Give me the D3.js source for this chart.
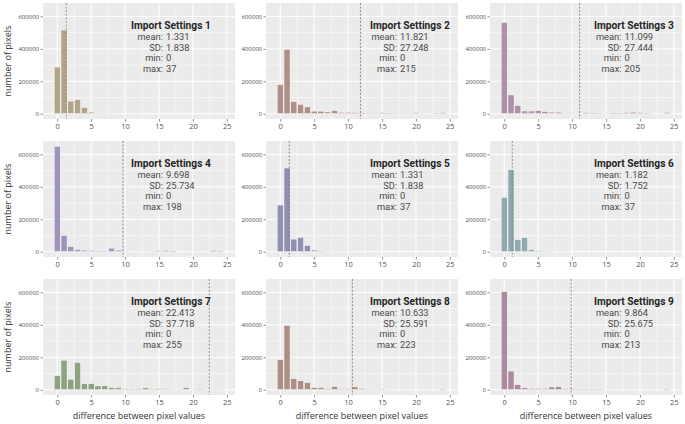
<!DOCTYPE html>
<html>
<head>
<meta charset="utf-8">
<script src="https://cdn.jsdelivr.net/npm/d3@7"></script>
<style>
  html, body { margin: 0; padding: 0; background: #ffffff; }
  svg { display: block; }
</style>
</head>
<body>
<svg id="chart" width="685" height="424"></svg>
<script>
// ---------- data ----------
const binValues = [0,1,2,3,4,5,6,7,8,9,10,11,12,13,14,15,16,17,18,19,20,21,22,23,24];

const series1 = [288000,516000,78000,88000,39000,10000,4000,2500,1500,800,600,500,400,300,300,200,200,200,200,200,200,200,200,200,200];
const series2 = [180000,397000,75000,58000,42000,16000,16000,11000,19000,9000,9000,8000,6000,3000,3000,7000,5000,3000,3000,2000,7000,2000,1000,4000,8000];
const series3 = [563000,116000,51000,17000,17000,19000,14000,10000,10000,3000,3000,2000,8000,7000,4000,2000,5000,5000,8000,10000,8000,5000,1000,1000,9000];
const series4 = [650000,101000,32000,15000,10000,8000,6000,6000,22000,10000,2000,500,500,500,2000,7000,9000,6000,500,500,500,500,500,9000,6000];
const series5 = [288000,516000,78000,88000,39000,10000,4000,2500,1500,800,600,500,400,300,300,200,200,200,200,200,200,200,200,200,200];
const series6 = [335000,505000,75000,87000,14000,6000,3000,2000,1000,500,400,300,300,300,200,200,200,200,200,200,200,200,200,200,200];
const series7 = [87000,182000,65000,168000,38000,38000,24000,24000,14000,14000,6000,6000,7000,12000,5000,7000,7000,2000,2000,13000,2000,6000,2000,2000,2000];
const series8 = [185000,397000,68000,56000,45000,14000,14000,8000,20000,6000,5000,18000,8000,3000,2000,4000,1500,1000,1000,1000,1000,800,800,1000,5000];
const series9 = [605000,115000,32000,13000,8000,8000,8000,17000,19000,7000,7000,5000,4000,4000,5000,1000,1000,1000,1000,1000,1000,1000,1000,1000,5000];

const panelTitles = ["Import Settings 1","Import Settings 2","Import Settings 3",
                     "Import Settings 4","Import Settings 5","Import Settings 6",
                     "Import Settings 7","Import Settings 8","Import Settings 9"];
const means = [1.331, 11.821, 11.099, 9.698, 1.331, 1.182, 22.413, 10.633, 9.864];
const sds   = [1.838, 27.248, 27.444, 25.734, 1.838, 1.752, 37.718, 25.591, 25.675];
const mins  = [0, 0, 0, 0, 0, 0, 0, 0, 0];
const maxs  = [37, 215, 205, 198, 37, 37, 255, 223, 213];

const xTicks = [0, 5, 10, 15, 20, 25];
const yTicks = [0, 200000, 400000, 600000];
const yMinorTicks = [100000, 300000, 500000];
const xMinorTicks = [2.5, 7.5, 12.5, 17.5, 22.5];

const xTitle = "difference between pixel values";
const yTitle = "number of pixels";

// ---------- styles ----------
const allSeries = [series1, series2, series3, series4, series5, series6, series7, series8, series9];
const barColors  = ["#b2a488", "#ae9088", "#ae90a8", "#a094b8", "#9290b0", "#90a9ad", "#8ea282", "#ac9086", "#ad8aa0"];
const lineColors = ["#8a7c62", "#8a6a62", "#8a6a84", "#7a6a94", "#6a689a", "#5f8a8e", "#6a7c5c", "#8a6a60", "#8a6480"];

const colLeft = [43, 266, 490];
const rowTop = [3, 141, 279];
const panelW = 192, panelH = 116;
const titleDx = [88, 104, 104];
const colonDx = [120, 131, 131.5];

const svg = d3.select("#chart");
const font = "'Open Sans', 'Noto Sans', sans-serif";
const annFont = "Roboto, 'Open Sans', sans-serif";

const x = d3.scaleLinear().domain([-2.1, 26.2]).range([0, panelW]);
const y = d3.scaleLinear().domain([-32500, 682500]).range([panelH, 0]);
const barW = x(0.9) - x(0);

allSeries.forEach((series, i) => {
  const col = i % 3, row = Math.floor(i / 3);
  const g = svg.append("g").attr("transform", `translate(${colLeft[col]},${rowTop[row]})`);

  // background
  g.append("rect").attr("width", panelW).attr("height", panelH).attr("fill", "#ebebeb");

  // minor grid
  g.selectAll(".ymin").data(yMinorTicks).enter().append("line")
    .attr("x1", 0).attr("x2", panelW).attr("y1", d => y(d)).attr("y2", d => y(d))
    .attr("stroke", "#ffffff").attr("stroke-width", 0.5);
  g.selectAll(".xmin").data(xMinorTicks).enter().append("line")
    .attr("y1", 0).attr("y2", panelH).attr("x1", d => x(d)).attr("x2", d => x(d))
    .attr("stroke", "#ffffff").attr("stroke-width", 0.5);
  // major grid
  g.selectAll(".ymaj").data(yTicks).enter().append("line")
    .attr("x1", 0).attr("x2", panelW).attr("y1", d => y(d)).attr("y2", d => y(d))
    .attr("stroke", "#ffffff").attr("stroke-width", 1);
  g.selectAll(".xmaj").data(xTicks).enter().append("line")
    .attr("y1", 0).attr("y2", panelH).attr("x1", d => x(d)).attr("x2", d => x(d))
    .attr("stroke", "#ffffff").attr("stroke-width", 1);

  // bars
  g.selectAll(".bar").data(binValues.map((b, k) => ({ b, v: series[k] }))).enter().append("rect")
    .attr("x", d => x(d.b) - barW / 2)
    .attr("width", barW)
    .attr("y", d => y(d.v))
    .attr("height", d => y(0) - y(d.v))
    .attr("fill", barColors[i])
    .attr("stroke", "#ffffff").attr("stroke-width", 0.5);

  // mean line
  g.append("line")
    .attr("x1", x(means[i])).attr("x2", x(means[i]))
    .attr("y1", 0).attr("y2", panelH)
    .attr("stroke", lineColors[i]).attr("stroke-width", 0.8)
    .attr("stroke-dasharray", "2,1.6");

  // y axis
  const yAxis = d3.axisLeft(y).tickValues(yTicks).tickSize(2.5).tickPadding(1.5).tickFormat(d3.format("d"));
  const ya = g.append("g").call(yAxis);
  ya.select(".domain").remove();
  ya.selectAll(".tick line").attr("stroke", "#444").attr("stroke-width", 0.6);
  ya.selectAll(".tick text").attr("fill", "#4d4d4d").style("font-family", font).style("font-size", "6px");

  // x axis
  const xAxis = d3.axisBottom(x).tickValues(xTicks).tickSize(2.5).tickPadding(2.5);
  const xa = g.append("g").attr("transform", `translate(0,${panelH})`).call(xAxis);
  xa.select(".domain").remove();
  xa.selectAll(".tick line").attr("stroke", "#444").attr("stroke-width", 0.6);
  xa.selectAll(".tick text").attr("fill", "#555").style("font-family", font).style("font-size", "7.5px");

  // annotation
  g.append("text")
    .attr("x", titleDx[col]).attr("y", 25.5)
    .attr("fill", "#262626").style("font-family", annFont).style("font-size", "10.2px").style("font-weight", "bold")
    .text(panelTitles[i]);
  const labels = ["mean:", "SD:", "min:", "max:"];
  const vals = [means[i].toFixed(3), sds[i].toFixed(3), String(mins[i]), String(maxs[i])];
  labels.forEach((lab, k) => {
    g.append("text")
      .attr("x", colonDx[col]).attr("y", 37 + k * 10.7)
      .attr("text-anchor", "end")
      .attr("fill", "#4a4a4a").style("font-family", annFont).style("font-size", "9.3px")
      .text(lab);
    g.append("text")
      .attr("x", colonDx[col] + 3).attr("y", 37 + k * 10.7)
      .attr("fill", "#4a4a4a").style("font-family", annFont).style("font-size", "9.3px")
      .text(vals[k]);
  });

  // x title for bottom row
  if (row === 2) {
    g.append("text")
      .attr("x", panelW / 2).attr("y", panelH + 24)
      .attr("text-anchor", "middle")
      .attr("fill", "#333").style("font-family", font).style("font-size", "9px")
      .text(xTitle);
  }
  // y title for left column
  if (col === 0) {
    g.append("text")
      .attr("transform", `translate(${-32},${panelH / 2}) rotate(-90)`)
      .attr("text-anchor", "middle")
      .attr("fill", "#333").style("font-family", font).style("font-size", "9px")
      .text(yTitle);
  }
});
</script>
</body>
</html>
